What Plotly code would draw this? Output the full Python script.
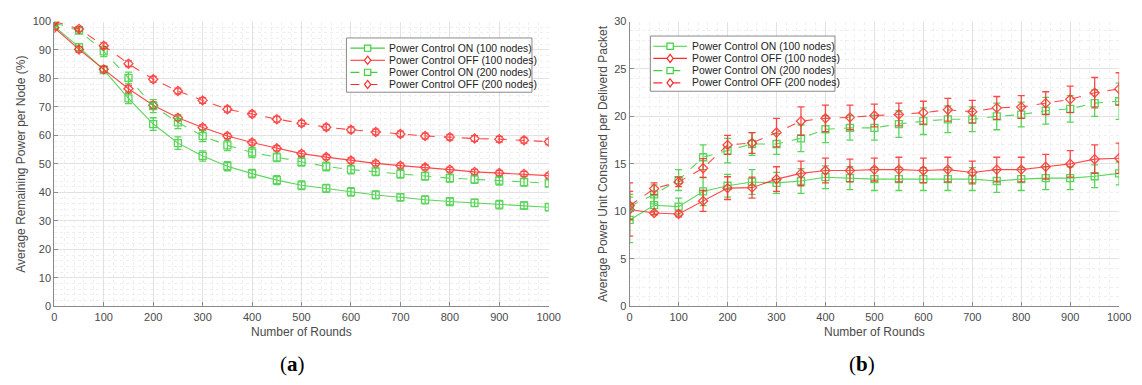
import plotly.graph_objects as go

rounds = list(range(0, 1001, 50))

# (a) average remaining power per node (%)
rem_on_100 = [98.3, 91.0, 83.0, 73.0, 64.0, 57.3, 52.8, 49.2, 46.6, 44.3, 42.5,
              41.4, 40.2, 39.1, 38.3, 37.4, 36.8, 36.3, 35.7, 35.4, 34.8]
rem_off_100 = [97.8, 90.2, 83.2, 76.4, 70.6, 66.2, 62.8, 59.8, 57.5, 55.5, 53.6,
               52.4, 51.2, 50.2, 49.4, 48.8, 48.0, 47.2, 46.8, 46.5, 45.9]
rem_on_200 = [99.5, 96.8, 89.5, 80.2, 70.3, 64.6, 59.8, 56.5, 54.0, 52.3, 50.7,
              49.1, 48.0, 47.3, 46.5, 45.7, 45.0, 44.6, 44.1, 43.6, 43.2]
rem_off_200 = [100.0, 97.4, 91.5, 85.2, 79.7, 75.6, 72.3, 69.2, 67.5, 65.7, 64.3,
               62.9, 62.0, 61.2, 60.5, 59.8, 59.4, 58.9, 58.7, 58.3, 57.8]

rem_on_100_err = [1.0, 1.2, 1.3, 1.8, 2.2, 2.2, 1.8, 1.6, 1.5, 1.6, 1.5,
                  1.4, 1.5, 1.4, 1.3, 1.4, 1.4, 1.3, 1.5, 1.3, 1.3]
rem_off_100_err = [0.8, 1.0, 1.0, 1.2, 1.2, 1.0, 0.9, 0.9, 0.9, 0.9, 0.9,
                   0.9, 0.9, 0.9, 0.9, 0.9, 0.9, 0.9, 0.9, 0.9, 0.9]
rem_on_200_err = [0.8, 1.0, 1.8, 2.0, 2.3, 2.2, 2.0, 1.8, 1.8, 1.5, 1.5,
                  1.5, 1.5, 1.4, 1.5, 1.4, 1.4, 1.4, 1.5, 1.4, 1.3]
rem_off_200_err = [0.8, 0.9, 1.0, 1.0, 1.0, 1.0, 1.0, 1.0, 1.0, 1.0, 1.0,
                   1.0, 1.0, 1.0, 1.0, 1.0, 1.0, 1.0, 1.0, 1.0, 1.0]

# (b) average power unit consumed per delivered packet
cost_on_100 = [9.1, 10.65, 10.5, 12.1, 12.7, 13.1, 13.0, 13.2, 13.6, 13.5, 13.4,
               13.4, 13.4, 13.4, 13.4, 13.2, 13.4, 13.5, 13.5, 13.7, 14.0]
cost_off_100 = [10.2, 9.83, 9.73, 11.1, 12.45, 12.5, 13.4, 14.0, 14.3, 14.3, 14.4,
                14.4, 14.3, 14.4, 14.1, 14.4, 14.4, 14.7, 15.0, 15.5, 15.6]
cost_on_200 = [10.5, 11.8, 13.3, 15.7, 16.4, 17.1, 17.1, 17.7, 18.65, 18.8, 18.8,
               19.2, 19.5, 19.7, 19.7, 20.0, 20.2, 20.6, 20.8, 21.4, 21.6]
cost_off_200 = [10.6, 12.4, 13.1, 14.55, 17.0, 17.2, 18.3, 19.5, 19.8, 19.9, 20.1,
                20.2, 20.4, 20.7, 20.5, 20.9, 21.0, 21.4, 21.8, 22.5, 22.9]

cost_on_100_err = [2.4, 1.0, 0.9, 1.5, 1.2, 1.3, 1.1, 1.3, 1.2, 1.2, 1.2,
                   1.2, 1.2, 1.2, 1.2, 1.2, 1.2, 1.2, 1.2, 1.2, 1.2]
cost_off_100_err = [2.8, 0.2, 0.3, 1.1, 1.2, 1.1, 1.3, 1.3, 1.3, 1.2, 1.2,
                    1.3, 1.3, 1.3, 1.2, 1.3, 1.3, 1.3, 1.4, 1.5, 1.6]
cost_on_200_err = [1.3, 1.0, 1.1, 1.3, 1.3, 1.2, 1.1, 1.4, 1.4, 1.3, 1.3,
                   1.4, 1.4, 1.4, 1.3, 1.4, 1.3, 1.4, 1.4, 1.4, 1.9]
cost_off_200_err = [1.5, 0.6, 0.5, 1.0, 1.0, 1.1, 1.5, 1.5, 1.4, 1.3, 1.2,
                    1.2, 1.2, 1.2, 1.2, 1.2, 1.2, 1.2, 1.4, 1.6, 1.7]

series_names = ["Power Control ON (100 nodes)", "Power Control OFF (100 nodes)",
                "Power Control ON (200 nodes)", "Power Control OFF (200 nodes)"]

GREEN = "#3fcf3f"
RED = "#ff2a2a"
styles = [
    (GREEN, "solid", "square-open"),
    (RED, "solid", "diamond-open"),
    (GREEN, "dash", "square-open"),
    (RED, "dash", "diamond-open"),
]

W, H = 1142, 385
TEXT = "#4a4a4a"
AX = "#8a8a8a"
GRID = "#e2e2e2"
MINOR = "#efefef"

fig = go.Figure()


def add_panel(values, errors, xaxis, yaxis):
    for name, ys, es, (color, dash, symbol) in zip(series_names, values, errors, styles):
        fig.add_trace(go.Scatter(
            x=rounds, y=ys, name=name, mode="lines+markers",
            xaxis=xaxis, yaxis=yaxis, showlegend=False,
            line=dict(color=color, width=1.1, dash=dash),
            marker=dict(symbol=symbol, size=7, color=color, line=dict(width=1.3, color=color)),
            error_y=dict(type="data", array=es, color=color, thickness=1.3, width=3.5),
            opacity=0.85,
        ))


add_panel([rem_on_100, rem_off_100, rem_on_200, rem_off_200],
          [rem_on_100_err, rem_off_100_err, rem_on_200_err, rem_off_200_err],
          "x", "y")
add_panel([cost_on_100, cost_off_100, cost_on_200, cost_off_200],
          [cost_on_100_err, cost_off_100_err, cost_on_200_err, cost_off_200_err],
          "x2", "y2")

y_bottom = (H - 310) / H
y_top = (H - 16) / H


def xaxis_style(domain, anchor):
    return dict(
        domain=domain, anchor=anchor, range=[0, 1000], dtick=100, tick0=0,
        showgrid=True, gridcolor=GRID, gridwidth=1,
        minor=dict(dtick=20, showgrid=True, gridcolor=MINOR, griddash="dot", ticks=""),
        showline=True, linecolor=AX, linewidth=1, mirror=False,
        ticks="inside", ticklen=4, tickcolor=AX,
        tickfont=dict(family="Liberation Sans, Arial", size=11, color=TEXT),
        zeroline=False,
    )


def yaxis_style(rng, dtick, minor, anchor):
    return dict(
        domain=[y_bottom, y_top], anchor=anchor, range=rng, dtick=dtick, tick0=0,
        showgrid=True, gridcolor=GRID, gridwidth=1,
        minor=dict(dtick=minor, showgrid=True, gridcolor=MINOR, griddash="dot", ticks=""),
        showline=True, linecolor=AX, linewidth=1, mirror=False,
        ticks="inside", ticklen=4, tickcolor=AX,
        tickfont=dict(family="Liberation Sans, Arial", size=11, color=TEXT),
        zeroline=False,
    )


fig.update_layout(
    width=W, height=H,
    margin=dict(l=0, r=0, t=0, b=0),
    paper_bgcolor="white", plot_bgcolor="white",
    showlegend=False,
    xaxis=xaxis_style([52 / W, 553 / W], "y"),
    yaxis=yaxis_style([0, 100], 10, 2, "x"),
    xaxis2=xaxis_style([635 / W, 1131 / W], "y2"),
    yaxis2=yaxis_style([0, 30], 5, 1, "x2"),
)


# Compact legend boxes drawn in paper space (pixel helpers below)
def px(x):
    return x / W


def py(y):
    return (H - y) / H


shapes = []
annotations = []
legend_font = dict(family="Liberation Sans, Arial", size=10.4, color="#222222")


def add_legend(box, line_x0, line_x1, text_x, row_y0, row_step):
    bx0, by0, bx1, by1 = box
    shapes.append(dict(type="rect", xref="paper", yref="paper",
                       x0=px(bx0), x1=px(bx1), y0=py(by1), y1=py(by0),
                       fillcolor="white", line=dict(color="#8a8a8a", width=1), layer="above"))
    mx = (line_x0 + line_x1) / 2
    for i, (name, (color, dash, symbol)) in enumerate(zip(series_names, styles)):
        y = row_y0 + i * row_step
        shapes.append(dict(type="line", xref="paper", yref="paper",
                           x0=px(line_x0), x1=px(line_x1), y0=py(y), y1=py(y),
                           line=dict(color=color, width=1.1, dash=dash), layer="above"))
        s = 3.2
        if symbol.startswith("square"):
            shapes.append(dict(type="rect", xref="paper", yref="paper",
                               x0=px(mx - s), x1=px(mx + s), y0=py(y + s), y1=py(y - s),
                               fillcolor="white", line=dict(color=color, width=1.2), layer="above"))
        else:
            d = 4.2
            path = (f"M {px(mx)},{py(y - d)} L {px(mx + d * 0.75)},{py(y)} "
                    f"L {px(mx)},{py(y + d)} L {px(mx - d * 0.75)},{py(y)} Z")
            shapes.append(dict(type="path", xref="paper", yref="paper", path=path,
                               fillcolor="white", line=dict(color=color, width=1.2), layer="above"))
        annotations.append(dict(text=name, x=px(text_x), y=py(y), xref="paper", yref="paper",
                                showarrow=False, font=legend_font, xanchor="left",
                                yanchor="middle"))


add_legend((348, 33, 536, 89), 352, 387, 389, 43.5, 12.5)
add_legend((656, 31, 843, 88), 659, 693, 696, 41.5, 12.6)

label_font = dict(family="Liberation Sans, Arial", size=12, color=TEXT)
cap_font = dict(family="Liberation Serif, DejaVu Serif", size=21, color="black")

annotations += [
    dict(text="Number of Rounds", x=px(302), y=py(336), xref="paper", yref="paper",
         showarrow=False, font=label_font, xanchor="center", yanchor="middle"),
    dict(text="Number of Rounds", x=px(883), y=py(336), xref="paper", yref="paper",
         showarrow=False, font=label_font, xanchor="center", yanchor="middle"),
    dict(text="Average Remaining Power per Node (%)", x=px(18), y=py(163),
         xref="paper", yref="paper", showarrow=False, font=label_font, textangle=-90,
         xanchor="center", yanchor="middle"),
    dict(text="Average Power Unit Consumed per Deliverd Packet", x=px(608), y=py(163),
         xref="paper", yref="paper", showarrow=False, font=label_font, textangle=-90,
         xanchor="center", yanchor="middle"),
    dict(text="(<b>a</b>)", x=px(293), y=py(370), xref="paper", yref="paper",
         showarrow=False, font=cap_font, xanchor="center", yanchor="middle"),
    dict(text="(<b>b</b>)", x=px(870), y=py(370), xref="paper", yref="paper",
         showarrow=False, font=cap_font, xanchor="center", yanchor="middle"),
]
fig.update_layout(shapes=shapes, annotations=annotations)

fig.write_html("out.html")
